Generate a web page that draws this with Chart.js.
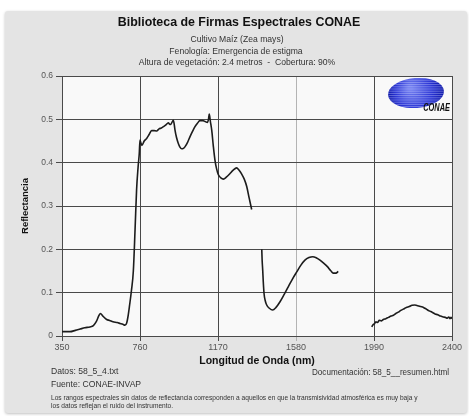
<!DOCTYPE html>
<html>
<head>
<meta charset="utf-8">
<script src="https://cdn.jsdelivr.net/npm/chart.js@4.4.1/dist/chart.umd.min.js"></script>
<style>
  html, body { margin: 0; padding: 0; background: #ffffff; }
  canvas { display: block; }
</style>
</head>
<body>
<canvas id="firma" width="469" height="416"></canvas>
<script>
// Spectral signature: wavelength (nm) and reflectance; null marks absorption bands without data
const wavelength = [
  350, 370, 392, 420, 445, 470, 497, 515, 530, 545, 552, 565, 585, 600, 618, 640, 655, 670, 681, 690,
  697, 705, 715, 725, 734, 742, 750, 756, 760, 765, 770, 782, 795, 808, 821, 834, 847, 860, 872, 883,
  896, 909, 915, 921, 928, 935, 940, 944, 952, 961, 970, 979, 988, 997, 1010, 1023, 1036, 1049, 1062, 1075,
  1090, 1102, 1114, 1120, 1124, 1130, 1137, 1145, 1154, 1163, 1172, 1185, 1198, 1215, 1233, 1250, 1268, 1280, 1294, 1308,
  1321, 1334, 1347,
  1375,
  1400, 1402, 1405, 1408, 1412, 1418, 1426, 1440, 1457, 1475, 1496, 1518, 1540, 1562, 1584, 1605, 1627, 1648, 1668, 1688,
  1706, 1725, 1745, 1762, 1776, 1790, 1802,
  1900,
  1978, 1985, 1992, 2000, 2008, 2018, 2028, 2039, 2052, 2066, 2080, 2092, 2105, 2118, 2131, 2144, 2160, 2175, 2190, 2205,
  2220, 2235, 2250, 2265, 2280, 2295, 2311, 2325, 2340, 2354, 2365, 2375, 2383, 2390, 2395, 2400
];
const reflectance = [
  0.010, 0.010, 0.010, 0.013, 0.016, 0.019, 0.021, 0.024, 0.033, 0.048, 0.052, 0.046, 0.038, 0.036, 0.033, 0.031, 0.029, 0.027, 0.025, 0.030,
  0.045, 0.070, 0.105, 0.150, 0.245, 0.337, 0.390, 0.420, 0.452, 0.445, 0.440, 0.450, 0.456, 0.465, 0.474, 0.474, 0.473, 0.478, 0.480, 0.483,
  0.487, 0.492, 0.489, 0.488, 0.493, 0.498, 0.488, 0.475, 0.458, 0.445, 0.436, 0.432, 0.433, 0.437, 0.447, 0.460, 0.472, 0.483, 0.491, 0.497,
  0.497, 0.495, 0.493, 0.500, 0.512, 0.495, 0.475, 0.440, 0.406, 0.385, 0.372, 0.365, 0.362, 0.367, 0.375, 0.383, 0.388, 0.383, 0.374, 0.362,
  0.345, 0.318, 0.292,
  null,
  0.200, 0.175, 0.152, 0.125, 0.098, 0.082, 0.0715, 0.064, 0.060, 0.066, 0.079, 0.096, 0.114, 0.132, 0.148, 0.163, 0.175, 0.181, 0.183, 0.180,
  0.175, 0.168, 0.160, 0.151, 0.145, 0.145, 0.149,
  null,
  0.021, 0.026, 0.028, 0.033, 0.031, 0.036, 0.035, 0.038, 0.040, 0.043, 0.046, 0.048, 0.052, 0.055, 0.059, 0.062, 0.066, 0.068, 0.071, 0.0715,
  0.070, 0.068, 0.066, 0.062, 0.058, 0.055, 0.051, 0.049, 0.046, 0.044, 0.043, 0.041, 0.044, 0.040, 0.043, 0.040
];

const xTicks = [350, 760, 1170, 1580, 1990, 2400];
const yTicks = [0, 0.1, 0.2, 0.3, 0.4, 0.5, 0.6];

const titleText = 'Biblioteca de Firmas Espectrales CONAE';
const subtitleLines = [
  'Cultivo Maíz (Zea mays)',
  'Fenología: Emergencia de estigma',
  'Altura de vegetación: 2.4 metros  -  Cobertura: 90%'
];
const xAxisTitle = 'Longitud de Onda (nm)';
const yAxisTitle = 'Reflectancia';
const dataFile = 'Datos: 58_5_4.txt';
const docFile = 'Documentación: 58_5__resumen.html';
const sourceText = 'Fuente: CONAE-INVAP';
const noteLines = [
  'Los rangos espectrales sin datos de reflectancia corresponden a aquellos en que la transmisividad atmosférica es muy baja y',
  'los datos reflejan el ruido del instrumento.'
];

const FONT = '"Liberation Sans", Arial, sans-serif';

const points = wavelength.map((w, i) => ({ x: w, y: reflectance[i] }));

// Grey panel and white plotting area behind everything
const panelPlugin = {
  id: 'panel',
  beforeDraw(chart) {
    const { ctx, chartArea: a } = chart;
    ctx.save();
    ctx.fillStyle = '#ffffff';
    ctx.fillRect(0, 0, chart.width, chart.height);
    ctx.shadowColor = 'rgba(0,0,0,0.25)';
    ctx.shadowBlur = 3;
    ctx.shadowOffsetY = 1;
    ctx.fillStyle = '#e4e4e4';
    ctx.beginPath();
    ctx.roundRect(5, 11, 462, 402, 3);
    ctx.fill();
    ctx.shadowColor = 'transparent';
    ctx.fillStyle = '#f9f9f9';
    ctx.fillRect(a.left, a.top, a.right - a.left, a.bottom - a.top);
    ctx.restore();
  }
};

// Titles, axis captions, footer notes and logo
const textPlugin = {
  id: 'texts',
  afterDraw(chart) {
    const { ctx } = chart;
    ctx.save();
    ctx.textBaseline = 'middle';
    ctx.textAlign = 'center';

    ctx.fillStyle = '#111';
    ctx.font = 'bold 12.4px ' + FONT;
    ctx.fillText(titleText, 239, 23);

    ctx.fillStyle = '#333';
    ctx.font = '8.6px ' + FONT;
    ctx.fillText(subtitleLines[0], 237, 40);
    ctx.fillText(subtitleLines[1], 236, 51.5);
    ctx.fillText(subtitleLines[2], 237, 63);

    ctx.fillStyle = '#111';
    ctx.font = 'bold 10.5px ' + FONT;
    ctx.fillText(xAxisTitle, 257, 361);

    ctx.save();
    ctx.translate(25, 206);
    ctx.rotate(-Math.PI / 2);
    ctx.font = 'bold 9.5px ' + FONT;
    ctx.fillText(yAxisTitle, 0, 0);
    ctx.restore();

    ctx.textAlign = 'left';
    ctx.fillStyle = '#333';
    ctx.font = '8.6px ' + FONT;
    ctx.fillText(dataFile, 51, 372);
    ctx.fillText(sourceText, 51, 385);
    ctx.fillText(docFile, 312, 373, 137);

    ctx.font = '6.6px ' + FONT;
    ctx.fillText(noteLines[0], 51, 398, 378);
    ctx.fillText(noteLines[1], 51, 406);

    // CONAE logo: striped blue ellipse with lettering
    const cx = 416, cy = 93, rx = 28, ry = 15;
    const g = ctx.createRadialGradient(cx - 6, cy - 5, 2, cx, cy, rx);
    g.addColorStop(0, '#6f7cf0');
    g.addColorStop(0.6, '#2b36d6');
    g.addColorStop(1, '#0a14a8');
    ctx.save();
    ctx.beginPath();
    ctx.ellipse(cx, cy, rx, ry, -0.08, 0, Math.PI * 2);
    ctx.fillStyle = g;
    ctx.fill();
    ctx.clip();
    ctx.strokeStyle = 'rgba(220,225,255,0.55)';
    ctx.lineWidth = 0.7;
    for (let yy = cy - ry; yy <= cy + ry; yy += 2.2) {
      ctx.beginPath();
      ctx.moveTo(cx - rx, yy);
      ctx.lineTo(cx + rx, yy);
      ctx.stroke();
    }
    ctx.restore();
    ctx.fillStyle = '#111';
    ctx.font = 'italic bold 9.5px ' + FONT;
    ctx.textAlign = 'right';
    ctx.save();
    ctx.translate(450, 108);
    ctx.scale(0.78, 1.2);
    ctx.fillText('CONAE', 0, 0);
    ctx.restore();

    ctx.restore();
  }
};

new Chart(document.getElementById('firma'), {
  type: 'line',
  data: {
    datasets: [{
      data: points,
      borderColor: '#1c1c1c',
      borderWidth: 1.6,
      pointRadius: 0,
      spanGaps: false,
      cubicInterpolationMode: 'monotone',
      fill: false
    }]
  },
  options: {
    responsive: false,
    devicePixelRatio: 1,
    animation: false,
    events: [],
    layout: { padding: { left: 0, right: 17, top: 76, bottom: 0 } },
    plugins: { legend: { display: false }, tooltip: { enabled: false }, title: { display: false } },
    scales: {
      x: {
        type: 'linear',
        min: 350,
        max: 2400,
        afterFit(s) { s.height = 80; },
        afterBuildTicks(s) { s.ticks = xTicks.map(v => ({ value: v })); },
        grid: {
          color: ctx => (ctx.tick && ctx.tick.value === 1580) ? '#b4b4b4' : '#4a4a4a',
          lineWidth: 1,
          tickLength: 5,
          drawTicks: true
        },
        border: { display: true, color: '#4a4a4a', width: 1 },
        ticks: {
          color: '#555',
          font: { family: FONT, size: 9 },
          padding: 1,
          maxRotation: 0,
          autoSkip: false,
          callback: v => String(v)
        }
      },
      y: {
        type: 'linear',
        min: 0,
        max: 0.6,
        afterFit(s) { s.width = 62; },
        afterBuildTicks(s) { s.ticks = yTicks.map(v => ({ value: v })); },
        grid: { color: '#4a4a4a', lineWidth: 1, tickLength: 6 },
        border: { display: true, color: '#4a4a4a', width: 1 },
        ticks: {
          color: '#555',
          font: { family: FONT, size: 8.5 },
          padding: 3,
          callback: v => v === 0 ? '0' : v.toFixed(1)
        }
      }
    }
  },
  plugins: [panelPlugin, textPlugin]
});
</script>
</body>
</html>
